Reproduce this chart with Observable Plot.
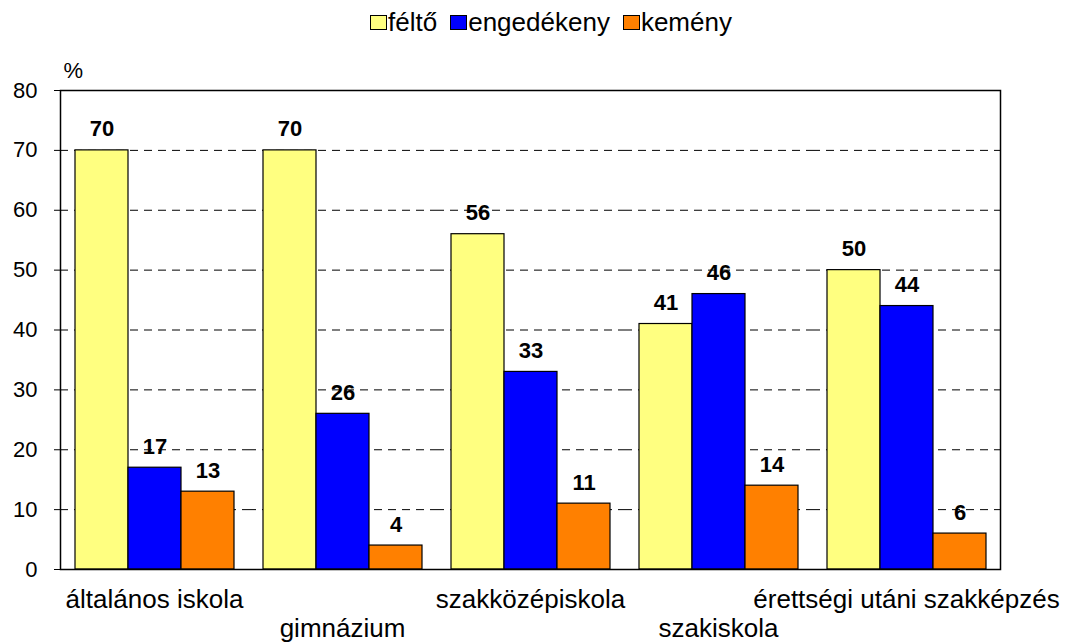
<!DOCTYPE html>
<html>
<head>
<meta charset="utf-8">
<script src="https://cdn.jsdelivr.net/npm/d3@7"></script>
<script src="https://cdn.jsdelivr.net/npm/@observablehq/plot@0.6"></script>
<style>
  body { margin: 0; background: #fff; font-family: "Liberation Sans", Arial, sans-serif; }
  #legend { height: 45px; display: flex; justify-content: center; align-items: center; gap: 13px; font-size: 26px; color: #000; padding-left: 33px; box-sizing: border-box; }
  #legend .item { display: flex; align-items: center; }
  #legend .sw { width: 15px; height: 13px; border: 1px solid #000; margin-right: 1px; }
  svg { display: block; }
</style>
</head>
<body>
<div id="legend"></div>
<div id="chart"></div>
<script>
const categories = ["általános iskola", "gimnázium", "szakközépiskola", "szakiskola", "érettségi utáni szakképzés"];
const series = ["féltő", "engedékeny", "kemény"];
const feltoValues = [70, 70, 56, 41, 50];
const engedekenyValues = [17, 26, 33, 46, 44];
const kemenyValues = [13, 4, 11, 14, 6];
const colors = ["#FFFF80", "#0000FF", "#FF8000"];
const yTicks = [0, 10, 20, 30, 40, 50, 60, 70, 80];
const gridTicks = [10, 20, 30, 40, 50, 60, 70];

const valuesBySeries = [feltoValues, engedekenyValues, kemenyValues];
const data = [];
categories.forEach((c, i) => {
  series.forEach((s, j) => data.push({category: c, series: s, value: valuesBySeries[j][i]}));
});
const catRows = categories.map((c, i) => ({category: c, idx: i}));

// legend
const legend = document.getElementById("legend");
series.forEach((s, j) => {
  const it = document.createElement("div");
  it.className = "item";
  const sw = document.createElement("div");
  sw.className = "sw";
  sw.style.background = colors[j];
  const t = document.createElement("span");
  t.textContent = s;
  it.appendChild(sw); it.appendChild(t);
  legend.appendChild(it);
});

const chart = Plot.plot({
  width: 1069,
  height: 597,
  marginTop: 45,
  marginBottom: 73,
  marginLeft: 58,
  marginRight: 68,
  style: {fontFamily: "'Liberation Sans', Arial, sans-serif", fontSize: "22px", color: "#000", background: "#fff"},
  fx: {domain: categories, padding: 0, axis: null},
  x: {domain: series, paddingInner: 0, paddingOuter: 0.2625, axis: null},
  y: {domain: [0, 80], axis: null},
  color: {domain: series, range: colors},
  marks: [
    Plot.gridY(gridTicks, {stroke: "#000", strokeOpacity: 1, strokeDasharray: "8,6", strokeWidth: 1}),
    Plot.barY(data, {fx: "category", x: "series", y: "value", fill: "series", stroke: "#000", strokeWidth: 1.2}),
    Plot.text(data, {fx: "category", x: "series", y: "value", text: d => String(d.value), lineAnchor: "bottom", dy: -14, fontWeight: "bold", fontSize: 22}),
    Plot.text(catRows.filter(d => d.idx % 2 === 0), {fx: "category", text: "category", frameAnchor: "bottom", lineAnchor: "bottom", dy: 38, fontSize: 26}),
    Plot.text(catRows.filter(d => d.idx % 2 === 1), {fx: "category", text: "category", frameAnchor: "bottom", lineAnchor: "bottom", dy: 67, fontSize: 26}),
    Plot.text([{category: categories[0]}], {fx: "category", text: () => "%", frameAnchor: "top-left", textAnchor: "start", lineAnchor: "bottom", dx: 3, dy: -13, fontSize: 22}),
    Plot.axisY({ticks: yTicks, facetAnchor: "left", tickSize: 6, tickPadding: 17, fontSize: 22, label: null}),
    Plot.frame({facet: "super", stroke: "#000", strokeWidth: 1.5})
  ]
});
document.getElementById("chart").appendChild(chart);
</script>
</body>
</html>
